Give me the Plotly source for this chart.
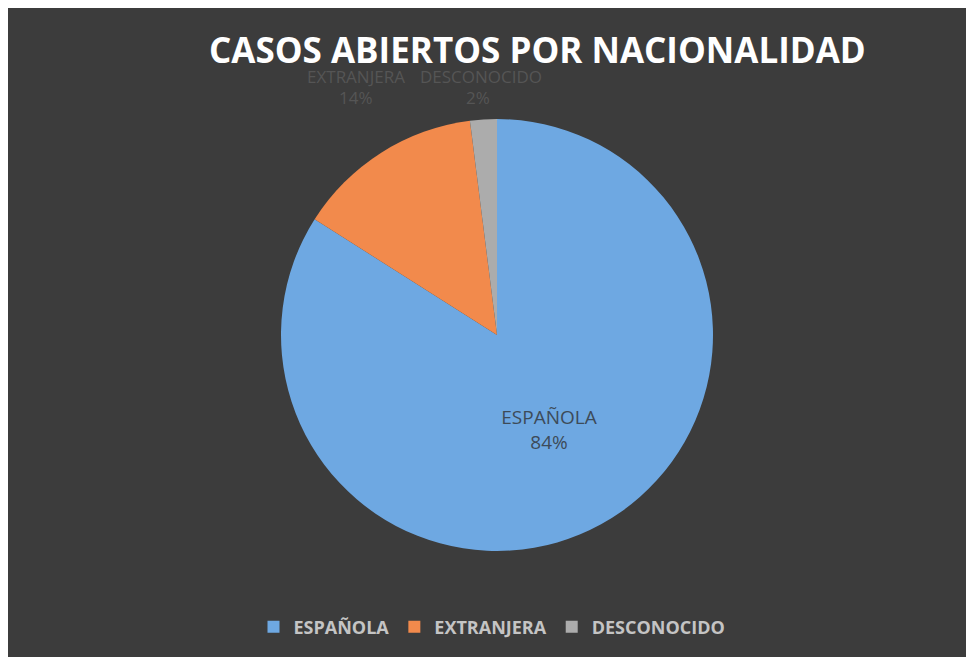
import plotly.graph_objects as go

labels = ["ESPAÑOLA", "EXTRANJERA", "DESCONOCIDO"]
values = [84, 14, 2]
colors = ["#6EA8E2", "#F28A4C", "#ACACAC"]
title_text = "CASOS ABIERTOS POR NACIONALIDAD"

W, H = 974, 657
OFF = 8  # page body margin offsets the figure by 8px
L, R, T, B = 4, 0, 111, 114
pw, ph = W - L - R, H - T - B

def px(x):
    # reference-picture x -> paper coordinate
    return (x - OFF - L) / pw

def py(y):
    # reference-picture y -> paper coordinate
    return (H - B - (y - OFF)) / ph

inside_text = [f"{labels[0]}<br>{values[0]}%", "", ""]

fig = go.Figure(go.Pie(
    labels=labels,
    values=values,
    sort=False,
    direction="clockwise",
    rotation=0,
    marker=dict(colors=colors, line=dict(width=0)),
    text=inside_text,
    textinfo="text",
    textposition="inside",
    insidetextorientation="horizontal",
    textfont=dict(family="Open Sans", size=19, color="#3d4b59"),
    hoverinfo="label+percent",
))

# faint outside labels (nearly invisible in the reference)
faint = "#555555"
ffont = dict(family="Open Sans", size=17, color=faint)
ann = dict(xref="paper", yref="paper", showarrow=False,
           xanchor="center", yanchor="middle")
fig.add_annotation(x=px(356), y=py(76), text=labels[1], font=ffont, **ann)
fig.add_annotation(x=px(481), y=py(76), text=labels[2], font=ffont, **ann)
fig.add_annotation(x=px(356), y=py(98), text=f"{values[1]}%", font=ffont, **ann)
fig.add_annotation(x=px(478), y=py(98), text=f"{values[2]}%", font=ffont, **ann)

fig.add_annotation(x=px(537), y=py(50), text=f"<b>{title_text}</b>",
                   font=dict(family="Open Sans", size=35, color="#ffffff"),
                   **ann)

fig.update_layout(
    width=W, height=H,
    margin=dict(l=L, r=R, t=T, b=B, autoexpand=False),
    paper_bgcolor="#3c3c3c",
    plot_bgcolor="#3c3c3c",
    showlegend=True,
    legend=dict(orientation="h", x=px(492), xanchor="center",
                y=py(627), yanchor="middle",
                font=dict(family="Open Sans", size=18, color="#c4c4c4",
                          weight="bold"),
                bgcolor="rgba(0,0,0,0)",
                itemclick=False),
)

fig.write_html("out.html")
